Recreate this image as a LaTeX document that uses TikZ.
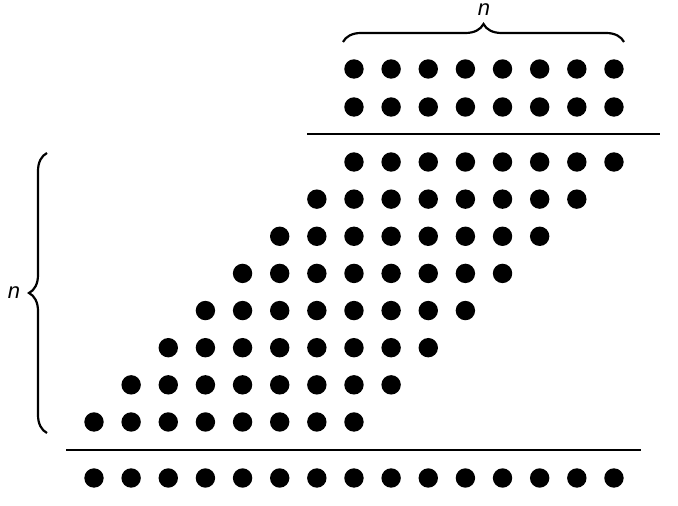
\documentclass[tikz,border=0pt]{standalone}
\usepackage{fontspec}
\setmainfont{Liberation Sans}
\usetikzlibrary{decorations.pathreplacing}
\begin{document}
\begin{tikzpicture}[x=1pt,y=1pt,
  dotc/.style={fill=black},
  sepline/.style={line width=2.8pt},
  brc/.style={line width=2.2pt, decorate, decoration={brace, amplitude=18pt}},
  lab/.style={font=\fontsize{22}{26}\selectfont\itshape, inner sep=0pt}]
\useasboundingbox (0,0) rectangle (678,506);
\def\dx{37.14}
% top two rows
\foreach \py in {69,107}{
  \foreach \k in {7,...,14}{
    \fill[dotc] ({94+\k*\dx},{506-\py}) circle (9.7pt);
  }
}
% staircase block
\foreach \i in {0,...,7}{
  \foreach \k in {0,...,7}{
    \fill[dotc] ({94+(7-\i+\k)*\dx},{506-162-\i*\dx}) circle (9.7pt);
  }
}
% bottom row
\foreach \k in {0,...,14}{
  \fill[dotc] ({94+\k*\dx},{506-478}) circle (9.7pt);
}
% separator lines
\coordinate (t1) at (307,372);
\coordinate (t2) at (660,372);
\coordinate (b1) at (66,56);
\coordinate (b2) at (641,56);
\draw[sepline] (t1) -- (t2);
\draw[sepline] (b1) -- (b2);
% braces
\coordinate (tb1) at (343,464);
\coordinate (tb2) at (624,464);
\draw[brc] (tb1) -- (tb2);
\node[lab] (ntop) at (484,496) {n};
\coordinate (lb1) at (47,73);
\coordinate (lb2) at (47,353);
\draw[brc] (lb1) -- (lb2);
\node[lab] (nleft) at (14,213) {n};
\end{tikzpicture}
\end{document}
